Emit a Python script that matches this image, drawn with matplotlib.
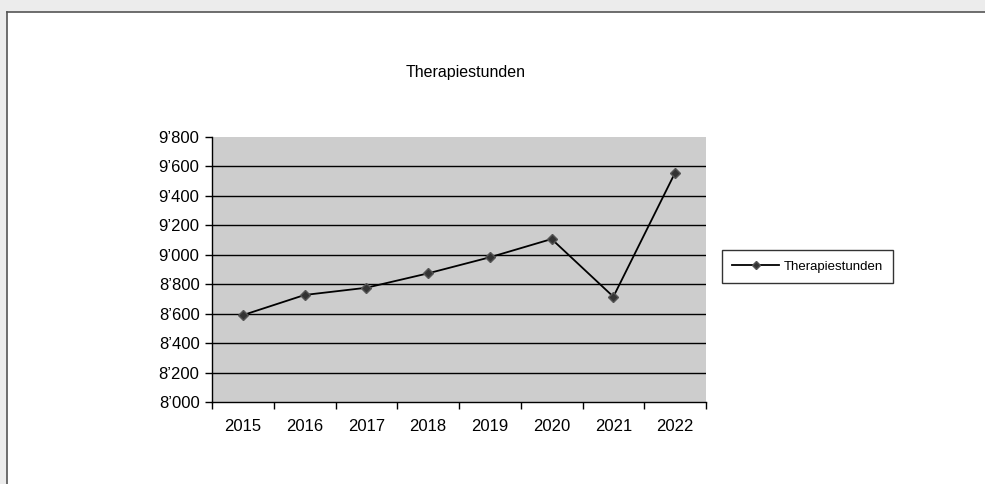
import matplotlib.pyplot as plt
from matplotlib.patches import Rectangle
from matplotlib.ticker import FuncFormatter

plt.rcParams['font.family'] = ['Liberation Sans', 'DejaVu Sans']

years = ['2015', '2016', '2017', '2018', '2019', '2020', '2021', '2022']
hours = [8590, 8727, 8776, 8874, 8983, 9107, 8715, 9558]
y_ticks = [8000, 8200, 8400, 8600, 8800, 9000, 9200, 9400, 9600, 9800]

fig = plt.figure(figsize=(9.85, 4.84), dpi=100)
fig.patch.set_facecolor('#ececec')

# white chart frame, border only on left and top (rest runs off the picture)
W, H = 985, 484
fig.patches.append(Rectangle((7 / W, 0), 1, 1 - 12 / H, transform=fig.transFigure,
                             facecolor='white', edgecolor='none', zorder=-10))
fig.add_artist(plt.Line2D([7 / W, 7 / W], [0, 1 - 12 / H], transform=fig.transFigure,
                          color='#555555', lw=1.2, zorder=-5))
fig.add_artist(plt.Line2D([7 / W, 1], [1 - 12 / H, 1 - 12 / H], transform=fig.transFigure,
                          color='#555555', lw=1.2, zorder=-5))

ax = fig.add_axes([212 / W, 1 - 402 / H, 494 / W, 265 / H])
ax.set_facecolor('#cdcdcd')

x = [i + 0.5 for i in range(len(years))]
ax.plot(x, hours, color='black', lw=1.3, marker='D', markersize=5,
        markerfacecolor='#333333', markeredgecolor='#555555', label='Therapiestunden', zorder=3)

ax.set_xlim(0, len(years))
ax.set_ylim(8000, 9800)
ax.set_yticks(y_ticks)
ax.yaxis.set_major_formatter(FuncFormatter(lambda v, p: f"{int(v) // 1000}’{int(v) % 1000:03d}"))
ax.set_xticks(range(len(years) + 1))
ax.set_xticklabels([])
ax.set_xticks(x, minor=True)
ax.set_xticklabels(years, minor=True)
ax.tick_params(axis='x', which='minor', length=0, labelsize=12, pad=12)
ax.tick_params(axis='x', which='major', length=5, width=1, color='black')
ax.tick_params(axis='y', length=5, width=1, labelsize=12, pad=4)

for v in y_ticks[1:-1]:
    ax.axhline(v, color='black', lw=1, zorder=1)

for s in ['top', 'right']:
    ax.spines[s].set_visible(False)
for s in ['left', 'bottom']:
    ax.spines[s].set_color('black')
    ax.spines[s].set_linewidth(1)

fig.text(466 / W, 1 - 73 / H, 'Therapiestunden', ha='center', va='center', fontsize=11.5)

leg = ax.legend(loc='center left', bbox_to_anchor=(722 / W, 1 - 266.5 / H),
                bbox_transform=fig.transFigure, fontsize=9.5, frameon=True,
                fancybox=False, borderaxespad=0, borderpad=0.75, handlelength=3.6,
                handletextpad=0.3, markerscale=0.8)
leg.get_frame().set_edgecolor('black')
leg.get_frame().set_linewidth(1)

fig.savefig('out.png', dpi=100, facecolor=fig.get_facecolor())
